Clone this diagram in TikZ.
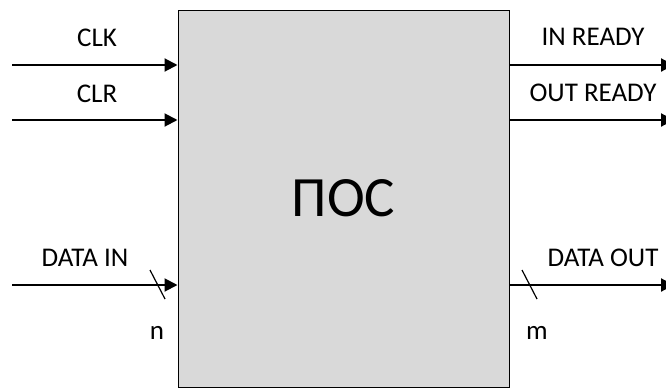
\documentclass[tikz,border=0pt]{standalone}
\usepackage{fontspec}
\setmainfont{Carlito}
\usetikzlibrary{arrows.meta,positioning}

\begin{document}
\begin{tikzpicture}
		[x=1pt,y=-1pt,
		lbl/.style={inner sep=0pt,font=\fontsize{27}{30}\selectfont},
		sig/.style={line width=2pt,-{Triangle[length=13pt,width=13pt]}},
		bus/.style={line width=1.2pt},
		block/.style={draw,line width=1pt,fill=black!15,inner sep=0pt,
			minimum width=331pt,minimum height=377pt,font=\fontsize{57}{62}\selectfont}]
		\useasboundingbox (0,0) rectangle (666,389);
		\node[block] (poc) at (343.5,198.5) {ПОС};
		% inputs
		\coordinate (clk) at (12,65);
		\coordinate (clr) at (12,120);
		\coordinate (din) at (12,285);
		\draw[sig] (clk) -- (clk -| poc.west);
		\draw[sig] (clr) -- (clr -| poc.west);
		\draw[sig] (din) -- (din -| poc.west);
		\node[lbl] (clkl) at (97,38) {CLK};
		\node[lbl] (clrl) at (97,94) {CLR};
		\node[lbl] (dinl) at (85,258) {DATA IN};
		\draw[bus] (150,270) -- (165,299);
		\node[lbl] (nl) at (157,333) {n};
		% outputs
		\coordinate (inr) at (674,65);
		\coordinate (outr) at (674,120);
		\coordinate (dout) at (674,285);
		\draw[sig] (inr -| poc.east) -- (inr);
		\draw[sig] (outr -| poc.east) -- (outr);
		\draw[sig] (dout -| poc.east) -- (dout);
		\node[lbl] (inrl) at (593,37) {IN READY};
		\node[lbl] (outrl) at (593,93) {OUT READY};
		\node[lbl] (doutl) at (603,258) {DATA OUT};
		\draw[bus] (522,270) -- (537,299);
		\node[lbl] (ml) at (537,333) {m};
\end{tikzpicture}
\end{document}
